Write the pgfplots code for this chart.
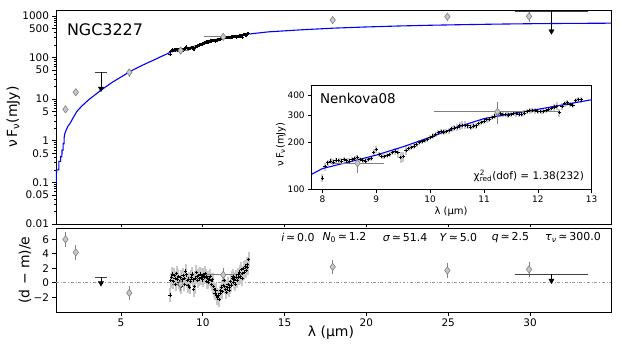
\documentclass[border=0pt]{standalone}
\usepackage{fontspec}
\setmainfont{DejaVu Sans}
\usepackage{pgfplots}
\pgfplotsset{compat=1.18}
\usepackage{pgfplotstable}
\usetikzlibrary{arrows.meta}

\definecolor{mblue}{RGB}{0,0,255}
\definecolor{dfill}{RGB}{200,200,200}
\definecolor{dedge}{RGB}{130,130,130}
\definecolor{ebar}{RGB}{128,128,128}
\definecolor{band}{RGB}{200,200,200}
\newcommand\fs[1]{\fontsize{#1}{#1}\selectfont}

% spectrum: wavelength, flux (mJy), relative error, residual
\pgfplotstableread{
x f e r
8.00 118 0.06 -1.7
8.05 140 0.06 0.3
8.10 148 0.05 0.8
8.15 152 0.04 1.2
8.20 150 0.04 0.2
8.25 154 0.04 1.0
8.30 153 0.04 0.6
8.35 152 0.04 -0.2
8.40 155 0.04 1.3
8.45 153 0.04 0.5
8.50 152 0.04 0.9
8.55 156 0.04 0.1
8.60 158 0.04 -0.3
8.65 160 0.04 0.7
8.70 155 0.04 -0.5
8.75 154 0.04 0.4
8.80 152 0.04 1.0
8.85 156 0.04 -0.2
8.90 158 0.04 0.6
8.95 172 0.05 1.6
9.00 180 0.05 1.1
9.05 168 0.04 0.3
9.10 163 0.04 -0.4
9.15 163 0.04 0.5
9.20 165 0.04 -0.6
9.25 168 0.04 0.2
9.30 172 0.04 0.8
9.35 176 0.05 1.2
9.40 172 0.07 0.4
9.45 160 0.08 -0.9
9.50 162 0.08 -0.5
9.55 178 0.06 0.6
9.60 183 0.04 1.4
9.65 186 0.04 0.9
9.70 190 0.04 0.3
9.75 195 0.04 1.0
9.80 200 0.04 0.6
9.85 203 0.04 1.2
9.90 206 0.04 0.7
9.95 210 0.04 1.0
10.00 215 0.04 0.4
10.05 220 0.04 1.1
10.10 226 0.04 0.8
10.15 232 0.04 1.3
10.20 236 0.04 0.9
10.25 234 0.04 0.2
10.30 236 0.04 0.6
10.35 238 0.04 0.1
10.40 245 0.04 0.5
10.45 248 0.04 0.9
10.50 250 0.05 0.3
10.55 256 0.06 -0.2
10.60 258 0.06 0.4
10.65 258 0.06 -0.5
10.70 256 0.05 -0.9
10.75 252 0.04 -1.4
10.80 255 0.04 -1.0
10.85 256 0.04 -1.7
10.90 265 0.04 -2.0
10.95 270 0.04 -1.8
11.00 275 0.04 -2.3
11.05 280 0.04 -1.5
11.10 282 0.04 -1.1
11.15 290 0.04 -0.6
11.20 296 0.04 -1.2
11.25 302 0.04 -0.4
11.30 306 0.04 0.3
11.35 303 0.04 -0.5
11.40 302 0.04 -0.9
11.45 300 0.04 -1.3
11.50 304 0.04 -0.7
11.55 308 0.04 -0.2
11.60 306 0.04 -1.0
11.65 303 0.04 -0.6
11.70 305 0.04 0.2
11.75 310 0.04 -0.3
11.80 316 0.04 0.6
11.85 320 0.04 0.9
11.90 322 0.04 0.1
11.95 320 0.04 0.5
12.00 318 0.04 -0.2
12.05 316 0.04 0.8
12.10 318 0.04 0.3
12.15 322 0.04 1.1
12.20 326 0.04 0.7
12.25 330 0.04 1.5
12.30 338 0.05 0.9
12.35 342 0.06 1.8
12.40 312 0.06 0.6
12.45 340 0.05 1.3
12.50 355 0.04 2.0
12.55 360 0.04 1.4
12.60 352 0.04 2.2
12.65 348 0.04 1.7
12.70 372 0.04 2.5
12.75 378 0.04 2.1
12.80 376 0.04 3.2
}\spec

\pgfplotsset{
  base/.style={
    scale only axis, anchor=south west,
    axis line style={line width=0.9bp},
    tick style={black, line width=0.7bp},
    tick align=outside, xtick pos=left, ytick pos=left,
    major tick length=3.5bp, minor tick length=2bp,
    ticklabel style={font=\fs{10.5}},
    label style={font=\fs{14}},
    clip=true,
  },
  phot/.style={only marks, mark=diamond*, mark size=3.6bp,
    mark options={fill=dfill, draw=dedge, line width=0.6bp},
    error bars/.cd, x dir=both, x explicit, y dir=both, y explicit,
    error mark=none, error bar style={ebar, line width=0.8bp}},
  specerr/.style={only marks, mark=+, mark size=1.7bp, black,
    mark options={line width=0.8bp},
    error bars/.cd, y dir=both, error mark=none,
    error bar style={band, line width=2bp}},
}

\begin{document}
\begin{tikzpicture}
\useasboundingbox (0,0) rectangle (623bp,346bp);

% ---- top panel: SED ----
\begin{axis}[base, at={(56bp,122bp)}, width=555bp, height=214bp,
  xmin=1.03, xmax=34.95, ymode=log, ymin=0.01, ymax=1393,
  xtick={5,10,15,20,25,30}, xticklabels={},
  ytick={0.01,0.05,0.1,0.5,1,5,10,50,100,500,1000},
  yticklabels={0.01,0.05,0.1,0.5,1,5,10,50,100,500,1000},
  minor ytick={0.02,0.03,0.04,0.06,0.07,0.08,0.09,0.2,0.3,0.4,0.6,0.7,0.8,0.9,
    2,3,4,6,7,8,9,20,30,40,60,70,80,90,200,300,400,600,700,800,900},
  ylabel={ν\,F\textsubscript{ν}(mJy)},
  ylabel style={at={(axis description cs:-0.077,0.5)}, anchor=center},
]
\addplot[mblue, line width=1.1bp] coordinates {
 (1.05,0.1) (1.06,0.2) (1.20,0.2) (1.21,0.32) (1.31,0.32) (1.32,0.42)
 (1.39,0.42) (1.40,0.6) (1.46,0.6) (1.47,0.85) (1.52,0.85) (1.53,1.2)
 (1.57,1.5) (1.65,1.8) (1.75,2.2) (1.88,2.6) (2.05,3.4) (2.29,5.0)
 (2.6,6.8) (3.0,9.5) (3.4,12.6) (3.78,16.5) (4.5,26) (5.0,34) (5.5,45)
 (6.0,57) (6.5,71) (7.0,87) (7.5,108) (7.8,122) (8,134) (8.5,150) (9,166)
 (9.5,188) (10,215) (10.5,250) (11,284) (11.5,305) (12,327) (12.5,350)
 (13,375) (14,415) (16,465) (18,510) (20,545) (22,575) (24,600) (26,620)
 (28,638) (30,652) (32,662) (34.95,672)};
\addplot[error bars/y explicit relative, specerr] table[x=x, y=f, y error=e] {\spec};
\addplot[phot] coordinates {
 (1.61,5.7) +- (0,0.5)
 (2.24,14.7) +- (0,1.5)
 (5.51,44) +- (0,10)
 (8.65,147) +- (0.5,20)
 (11.25,315) +- (1.17,50)
 (17.94,800) +- (0,150)
 (24.95,963) +- (0,200)
 (29.94,980) +- (0,250)};
% upper limits
\addplot[black!75, line width=0.8bp] coordinates {(3.41,44) (4.12,44)};
\addplot[black, line width=0.8bp] coordinates {(3.78,44) (3.78,19)};
\addplot[only marks, mark=triangle*, mark size=3bp, black, mark options={rotate=180}] coordinates {(3.78,18)};
\addplot[black!75, line width=0.8bp] coordinates {(29.06,1320) (33.55,1320)};
\addplot[black, line width=0.8bp] coordinates {(31.31,1320) (31.31,450)};
\addplot[only marks, mark=triangle*, mark size=3bp, black, mark options={rotate=180}] coordinates {(31.31,430)};
\node[font=\fs{16}, anchor=center] at (rel axis cs:0.0883,0.908) {NGC3227};
\end{axis}

% ---- bottom panel: residuals ----
\begin{axis}[base, at={(56bp,34bp)}, width=555bp, height=84bp,
  xmin=1.03, xmax=34.95, ymin=-4.03, ymax=7.56,
  xtick={5,10,15,20,25,30}, xticklabels={5,10,15,20,25,30},
  ytick={-2,0,2,4,6}, yticklabels={−2,0,2,4,6},
  xlabel={λ (μm)}, ylabel={(d − m)/e},
  xlabel style={at={(axis description cs:0.4955,-0.25)}, anchor=center},
  ylabel style={at={(axis description cs:-0.0559,0.5)}, anchor=center},
]
\addplot[black!40, dash dot, line width=0.9bp] coordinates {(1.03,0) (34.95,0)};
\addplot[error bars/y fixed=1, specerr] table[x=x, y=r] {\spec};
\addplot[phot] coordinates {
 (1.61,6.0) +- (0,1)
 (2.24,4.2) +- (0,1)
 (5.51,-1.4) +- (0,1)
 (8.65,-0.2) +- (0.5,1)
 (11.25,1.1) +- (1.17,1)
 (17.94,2.2) +- (0,1)
 (24.95,1.7) +- (0,1)
 (29.94,1.85) +- (0,1)};
\addplot[black!75, line width=0.8bp] coordinates {(3.41,0.76) (4.12,0.76)};
\addplot[black, line width=0.8bp] coordinates {(3.78,0.76) (3.78,0.1)};
\addplot[only marks, mark=triangle*, mark size=3bp, black, mark options={rotate=180}] coordinates {(3.78,-0.05)};
\addplot[black!75, line width=0.8bp] coordinates {(29.06,1.17) (33.55,1.17)};
\addplot[black, line width=0.8bp] coordinates {(31.31,1.17) (31.31,0.5)};
\addplot[only marks, mark=triangle*, mark size=3bp, black, mark options={rotate=180}] coordinates {(31.31,0.3)};
\node[font=\fs{11}, anchor=west] at (rel axis cs:0.3995,0.885) {\textit{i}\,≃\,0.0};
\node[font=\fs{11}, anchor=west] at (rel axis cs:0.4739,0.885) {\textit{N}\textsubscript{0}\,≃\,1.2};
\node[font=\fs{11}, anchor=west] at (rel axis cs:0.5825,0.885) {\textit{σ}\,≃\,51.4};
\node[font=\fs{11}, anchor=west] at (rel axis cs:0.6847,0.885) {\textit{Y}\,≃\,5.0};
\node[font=\fs{11}, anchor=west] at (rel axis cs:0.779,0.885) {\textit{q}\,≃\,2.5};
\node[font=\fs{11}, anchor=west] at (rel axis cs:0.875,0.885) {\textit{τ}\textsubscript{\textit{ν}}\,≃\,300.0};
\end{axis}

% ---- inset: IRS spectrum ----
\begin{axis}[base, at={(311.7bp,156.7bp)}, width=280bp, height=103.6bp,
  axis background/.style={fill=white},
  xmin=7.8, xmax=13, ymode=log, ymin=100, ymax=464,
  xtick={8,9,10,11,12,13}, xticklabels={8,9,10,11,12,13},
  ytick={100,200,300,400}, yticklabels={100,200,300,400},
  minor ytick={}, ticklabel style={font=\fs{9}}, label style={font=\fs{10}},
  xlabel={λ (μm)}, ylabel={ν\,F\textsubscript{ν}(mJy)},
  xlabel style={at={(axis description cs:0.4975,-0.216)}, anchor=center},
  ylabel style={at={(axis description cs:-0.110,0.435)}, anchor=center},
]
\addplot[error bars/y explicit relative, specerr] table[x=x, y=f, y error=e] {\spec};
\addplot[mblue, line width=1.1bp] coordinates {
 (7.8,125) (8,136) (8.5,150) (9,166) (9.5,188) (10,216) (10.5,251)
 (11,285) (11.5,306) (12,327) (12.5,351) (13,377)};
\addplot[phot] coordinates {
 (8.65,147) +- (0.5,20)
 (11.25,315) +- (1.17,50)};
\node[font=\fs{13.5}, anchor=center] at (rel axis cs:0.165,0.878) {Nenkova08};
\node[font=\fs{10.5}, anchor=east] at (rel axis cs:0.985,0.13)
  {χ\rlap{\textsuperscript{2}}\textsubscript{red}(dof) = 1.38(232)};
\end{axis}
\end{tikzpicture}
\end{document}
